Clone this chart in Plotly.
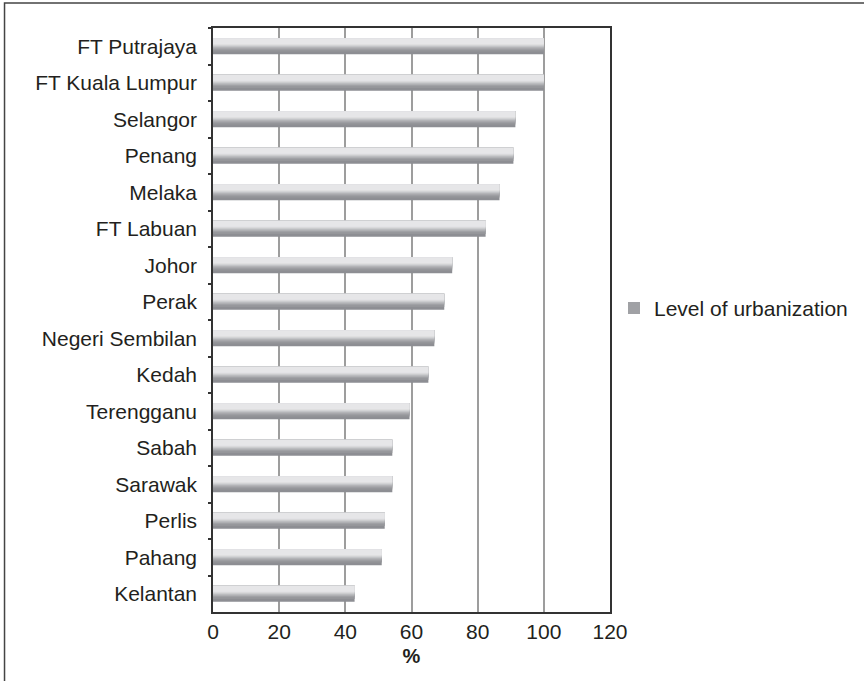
import plotly.graph_objects as go

# Urbanization level by state (%)
states = [
    "FT Putrajaya", "FT Kuala Lumpur", "Selangor", "Penang", "Melaka",
    "FT Labuan", "Johor", "Perak", "Negeri Sembilan", "Kedah",
    "Terengganu", "Sabah", "Sarawak", "Perlis", "Pahang", "Kelantan",
]
urbanization = [100, 100, 91.4, 90.8, 86.6, 82.4, 72.3, 69.9, 66.9, 65.1,
                59.4, 54.2, 54.2, 51.9, 51.0, 42.8]

x_ticks = [0, 20, 40, 60, 80, 100, 120]
series_name = "Level of urbanization"

# Cylindrical shading: layered bars, darkest full-height first,
# lighter ones covering progressively less from the top edge
BAR_W = 0.44
shade_layers = [
    (1.00, "#8d8e93"),
    (0.82, "#95969a"),
    (0.72, "#a0a1a5"),
    (0.64, "#afb0b3"),
    (0.57, "#bfc0c3"),
    (0.50, "#cfd0d2"),
    (0.44, "#dcdcde"),
    (0.37, "#e6e6e8"),
]

FONT = "Liberation Sans, Arial, Helvetica, sans-serif"
TXT = "#231f20"
FS = 21

fig = go.Figure()
for i, (frac, col) in enumerate(shade_layers):
    fig.add_trace(go.Bar(
        x=urbanization, y=states, orientation="h",
        width=BAR_W * frac, offset=-BAR_W / 2,
        marker=dict(color=col, line=dict(width=0)),
        name=series_name,
        showlegend=(i == 2),
        hoverinfo="x+y",
    ))

L, R, T, B = 213, 253, 28, 69
W, H = 864, 681
pw, ph = W - L - R, H - T - B

fig.update_layout(
    width=W, height=H,
    margin=dict(l=L, r=R, t=T, b=B, pad=0),
    barmode="overlay",
    plot_bgcolor="white", paper_bgcolor="white",
    font=dict(family=FONT, size=FS, color=TXT),
    legend=dict(
        x=1.0 + 3 / pw, xanchor="left", y=0.52, yanchor="middle",
        font=dict(size=FS, color=TXT),
        bgcolor="rgba(0,0,0,0)", borderwidth=0,
        itemsizing="constant",
    ),
    xaxis=dict(
        range=[0, 120], tickvals=x_ticks, ticks="", showgrid=True,
        gridcolor="#9d9d9d", gridwidth=1.5,
        showline=True, linecolor="#333333", linewidth=1.5, mirror=True,
        zeroline=False,
        title=dict(text="<b>%</b>", font=dict(size=FS - 1, color=TXT), standoff=7),
        tickfont=dict(size=FS, color=TXT),
    ),
    yaxis=dict(
        categoryorder="array", categoryarray=states, autorange="reversed",
        showline=True, linecolor="#333333", linewidth=1.5, mirror=True,
        ticks="outside", tickson="boundaries", ticklen=3, tickcolor="#333333",
        tickwidth=1.5, showgrid=False,
        tickfont=dict(size=FS, color=TXT),
        ticklabelstandoff=10,
    ),
    shapes=[dict(
        type="rect", xref="paper", yref="paper",
        x0=(4 - L) / pw, x1=(W + 20 - L) / pw,
        y0=-(H + 20 - T - ph) / ph, y1=1 + (T - 3) / ph,
        line=dict(color="#444444", width=1.5), fillcolor="rgba(0,0,0,0)",
        layer="below",
    )],
)

fig.write_html("out.html")
